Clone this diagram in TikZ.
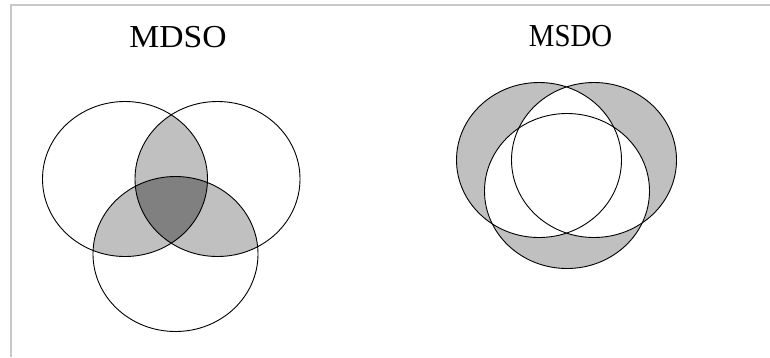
\documentclass[tikz,border=0pt]{standalone}
\usepackage{fontspec}
\setmainfont{Liberation Serif}
\definecolor{lightg}{HTML}{C0C0C0}
\definecolor{darkg}{HTML}{808080}
\definecolor{frameg}{HTML}{C8C8C8}
\begin{document}
\begin{tikzpicture}[x=1pt,y=-1pt,
  circ/.style={draw=black, line width=0.9pt},
  rr/.style={x radius=82.5pt, y radius=77.5pt},
  lbl/.style={inner sep=0pt, font=\fontsize{32}{32}\selectfont}]
\useasboundingbox (0,0) rectangle (770,357);
\draw[frameg, line width=2pt] (11,357) -- (11,4.5) -- (770,4.5);
% titles
\node[lbl] (t1) at (178,37.5) {\scalebox{1.05}[1]{MDSO}};
\node[lbl] (t2) at (570.5,36.5) {\scalebox{0.9}[1]{MSDO}};
% MDSO
\begin{scope}\clip (125,179) ellipse [rr]; \fill[lightg] (217.5,179) ellipse [rr]; \end{scope}
\begin{scope}\clip (125,179) ellipse [rr]; \fill[lightg] (175.5,254) ellipse [rr]; \end{scope}
\begin{scope}\clip (217.5,179) ellipse [rr]; \fill[lightg] (175.5,254) ellipse [rr]; \end{scope}
\begin{scope}\clip (125,179) ellipse [rr]; \clip (217.5,179) ellipse [rr]; \fill[darkg] (175.5,254) ellipse [rr]; \end{scope}
\draw[circ] (125,179) ellipse [rr];
\draw[circ] (217.5,179) ellipse [rr];
\draw[circ] (175.5,254) ellipse [rr];
% MSDO
\fill[lightg] (539,160) ellipse [rr];
\fill[lightg] (594,160) ellipse [rr];
\fill[lightg] (567,191) ellipse [rr];
\begin{scope}\clip (539,160) ellipse [rr]; \fill[white] (594,160) ellipse [rr]; \end{scope}
\begin{scope}\clip (539,160) ellipse [rr]; \fill[white] (567,191) ellipse [rr]; \end{scope}
\begin{scope}\clip (594,160) ellipse [rr]; \fill[white] (567,191) ellipse [rr]; \end{scope}
\draw[circ] (539,160) ellipse [rr];
\draw[circ] (594,160) ellipse [rr];
\draw[circ] (567,191) ellipse [rr];
\end{tikzpicture}
\end{document}
